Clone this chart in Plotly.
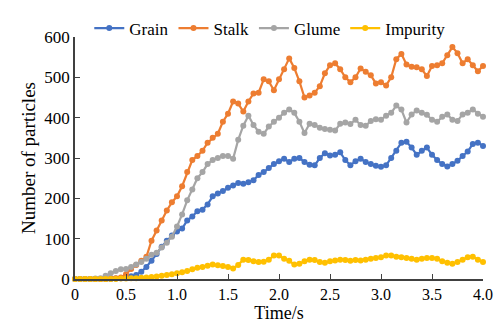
import plotly.graph_objects as go

# Sample times (s), every 0.05 s from 0 to 4.0
time = [round(0.05 * i, 2) for i in range(81)]

grain = [0, 0, 0, 0, 0, 0, 0, 0, 1, 2,
         4, 7, 10, 18, 30, 45, 62, 80, 95, 108,
         118, 125, 145, 155, 168, 172, 185, 205, 212, 218,
         226, 232, 238, 236, 240, 245, 258, 265, 275, 285,
         292, 298, 290, 298, 300, 290, 283, 282, 300, 312,
         306, 308, 314, 295, 282, 292, 298, 290, 285, 281,
         278, 282, 300, 318, 338, 340, 326, 308, 318, 326,
         308, 295, 285, 279, 285, 293, 305, 316, 335, 338,
         330]

stalk = [0, 0, 0, 0, 0, 0, 0, 1, 2, 4,
         12, 25, 35, 45, 55, 95, 120, 145, 170, 190,
         205, 230, 265, 295, 305, 318, 338, 350, 360, 390,
         410, 440, 435, 415, 440, 460, 462, 495, 490, 468,
         495, 520, 547, 523, 490, 450, 455, 462, 478, 510,
         530, 535, 520, 500, 488, 500, 522, 514, 505, 485,
         488, 480, 500, 545, 558, 532, 526, 525, 520, 503,
         528, 530, 535, 555, 575, 560, 535, 545, 530, 515,
         528]

glume = [0, 0, 0, 0, 1, 2, 8, 14, 20, 24,
         25, 30, 36, 42, 50, 60, 65, 78, 90, 105,
         130, 160, 195, 222, 250, 265, 285, 295, 300, 305,
         305, 298, 345, 380, 405, 382, 365, 360, 378, 390,
         400, 412, 420, 412, 390, 362, 385, 382, 375, 372,
         370, 368, 385, 388, 384, 395, 382, 380, 392, 396,
         395, 405, 412, 430, 420, 388, 408, 418, 412, 407,
         395, 390, 402, 408, 395, 392, 408, 412, 420, 410,
         402]

impurity = [0, 0, 0, 0, 0, 0, 0, 0, 0, 1,
            1, 2, 2, 3, 4, 5, 6, 8, 10, 12,
            14, 17, 20, 24, 28, 30, 33, 36, 34, 32,
            30, 26, 35, 48, 47, 44, 42, 43, 48, 58,
            58, 50, 45, 36, 38, 44, 48, 47, 42, 40,
            44, 46, 48, 47, 45, 47, 46, 48, 50, 52,
            54, 58, 58, 55, 54, 52, 50, 48, 50, 52,
            52, 50, 44, 40, 38, 42, 48, 54, 55, 48,
            42]

series = [("Grain", grain, "#4472C4"),
          ("Stalk", stalk, "#ED7D31"),
          ("Glume", glume, "#A5A5A5"),
          ("Impurity", impurity, "#FFC000")]

x_ticks = [0, 0.5, 1.0, 1.5, 2.0, 2.5, 3.0, 3.5, 4.0]
x_tick_labels = ["0", "0.5", "1.0", "1.5", "2.0", "2.5", "3.0", "3.5", "4.0"]
y_ticks = [0, 100, 200, 300, 400, 500, 600]

FONT = "Liberation Serif"

fig = go.Figure()
for name, vals, color in series:
    fig.add_trace(go.Scatter(
        x=time, y=vals, name=name, mode="lines+markers",
        line=dict(color=color, width=2.2),
        marker=dict(color=color, size=6),
        cliponaxis=False,
    ))

fig.update_layout(
    width=503, height=327,
    margin=dict(l=75, r=10, t=25, b=44),
    paper_bgcolor="white", plot_bgcolor="white",
    font=dict(family=FONT, size=17, color="black"),
    showlegend=True,
    legend=dict(orientation="h", x=0.035, y=1.035, xanchor="left", yanchor="middle",
                font=dict(family=FONT, size=17), itemwidth=30,
                bgcolor="rgba(0,0,0,0)", tracegroupgap=0),
    xaxis=dict(range=[0, 4.0], tickvals=x_ticks, ticktext=x_tick_labels,
               showgrid=False, zeroline=False, showline=True,
               linecolor="#404040", linewidth=1.5,
               ticks="inside", ticklen=5, tickcolor="#404040", tickwidth=1.2,
               title=dict(text="Time/s", standoff=1, font=dict(size=18)),
               tickfont=dict(size=16)),
    yaxis=dict(range=[0, 600], tickvals=y_ticks,
               showgrid=False, zeroline=False, showline=True,
               linecolor="#404040", linewidth=1.5,
               ticks="inside", ticklen=5, tickcolor="#404040", tickwidth=1.2,
               title=dict(text="Number of particles", standoff=4, font=dict(size=19)),
               tickfont=dict(size=17)),
)

fig.write_html("out.html")
